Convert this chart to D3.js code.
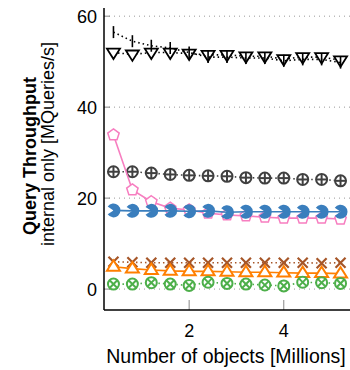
<!DOCTYPE html>
<html>
<head>
<meta charset="utf-8">
<script src="https://cdn.jsdelivr.net/npm/d3@7"></script>
<style>
  body { margin: 0; background: #fff; }
  text { font-family: "Liberation Sans", Arial, sans-serif; }
</style>
</head>
<body>
<div id="chart"></div>
<script>
// x positions (millions of objects)
const objects = [0.4, 0.8, 1.2, 1.6, 2.0, 2.4, 2.8, 3.2, 3.6, 4.0, 4.4, 4.8, 5.2];

// throughput per series [MQueries/s]
const tickSeries     = [56.5, 54.5, 53.5, 53.0, 52.0, 51.0, 51.0, 50.8, 50.8, 50.2, 50.5, 50.5, 49.8];
const triDownSeries  = [52.0, 51.6, 52.0, 52.0, 51.8, 51.5, 51.5, 51.2, 51.2, 50.6, 51.0, 51.0, 50.3];
const oplusSeries    = [25.8, 25.8, 25.5, 25.2, 25.0, 24.9, 24.8, 24.5, 24.4, 24.4, 24.1, 24.1, 23.8];
const pentagonSeries = [33.9, 21.8, 19.2, 17.8, 17.4, 16.7, 16.3, 16.1, 15.8, 15.6, 15.6, 15.6, 15.4];
const pacmanSeries   = [17.3, 17.2, 17.2, 17.2, 17.1, 17.2, 16.9, 17.0, 17.0, 17.0, 17.0, 17.0, 17.0];
const crossSeries    = [6.0, 5.9, 5.8, 5.8, 5.8, 5.8, 5.8, 5.8, 5.8, 5.8, 5.8, 5.7, 5.8];
const triUpSeries    = [4.9, 4.5, 4.2, 4.0, 3.9, 3.9, 3.8, 3.7, 3.7, 3.6, 3.5, 3.5, 3.4];
const otimesSeries   = [1.1, 1.1, 1.4, 1.1, 0.8, 1.5, 1.25, 1.1, 0.9, 0.7, 1.5, 1.4, 1.25];

const xTicks = [2, 4];
const yTicks = [0, 20, 40, 60];

const series = [
  { values: oplusSeries,    color: '#404040', dash: '1.5,3', marker: 'oplus' },
  { values: pentagonSeries, color: '#f77ec0', dash: null,    marker: 'pentagon' },
  { values: pacmanSeries,   color: '#3a7ebd', dash: null,    marker: 'pacman' },
  { values: crossSeries,    color: '#a65628', dash: '1.5,3', marker: 'cross' },
  { values: triUpSeries,    color: '#ff7f00', dash: null,    marker: 'triUp' },
  { values: otimesSeries,   color: '#4daf4a', dash: '1.5,3', marker: 'otimes' },
  { values: triDownSeries,  color: '#000000', dash: '1.5,3', marker: 'triDown' },
  { values: tickSeries,     color: '#000000', dash: '1.5,3', marker: 'vline' }
];

const width = 350, height = 370;
const margin = { top: 8, right: 0, bottom: 60, left: 104 };

const svg = d3.select('#chart').append('svg')
  .attr('width', width)
  .attr('height', height);

const x = d3.scaleLinear().domain([0.2, 5.4]).range([margin.left, width - margin.right]);
const y = d3.scaleLinear().domain([-4.6, 61.8]).range([height - margin.bottom, margin.top]);

const plot = svg.append('g');

// grid lines (dotted)
plot.selectAll('line.grid')
  .data(yTicks)
  .join('line')
  .attr('class', 'grid')
  .attr('x1', margin.left).attr('x2', width)
  .attr('y1', d => y(d)).attr('y2', d => y(d))
  .attr('stroke', '#999')
  .attr('stroke-width', 1)
  .attr('stroke-dasharray', '1,4');

// inward ticks
plot.selectAll('line.ytick')
  .data(yTicks)
  .join('line')
  .attr('x1', margin.left).attr('x2', margin.left + 6)
  .attr('y1', d => y(d)).attr('y2', d => y(d))
  .attr('stroke', '#888');

plot.selectAll('line.xtick')
  .data(xTicks)
  .join('line')
  .attr('x1', d => x(d)).attr('x2', d => x(d))
  .attr('y1', y.range()[0]).attr('y2', y.range()[0] - 10)
  .attr('stroke', '#888');

// tick labels
svg.selectAll('text.ylab')
  .data(yTicks)
  .join('text')
  .attr('x', 97)
  .attr('y', d => y(d))
  .attr('dy', '0.36em')
  .attr('text-anchor', 'end')
  .style('font-size', '18px')
  .text(d => d);

svg.selectAll('text.xlab')
  .data(xTicks)
  .join('text')
  .attr('x', d => x(d))
  .attr('y', 337)
  .attr('text-anchor', 'middle')
  .style('font-size', '18px')
  .text(d => d);

// markers
const pentagonPath = r => {
  const pts = d3.range(5).map(i => {
    const a = -Math.PI / 2 + i * 2 * Math.PI / 5;
    return [r * Math.cos(a), r * Math.sin(a)];
  });
  return 'M' + pts.join('L') + 'Z';
};
const triPath = (r, down) => {
  const s = down ? 1 : -1;
  return `M${-r},${-s * r * 0.6}L${r},${-s * r * 0.6}L0,${s * r}Z`;
};

function drawMarker(g, kind, color) {
  if (kind === 'oplus' || kind === 'otimes') {
    g.append('circle').attr('r', 5.5).attr('fill', '#fff').attr('stroke', color).attr('stroke-width', 2);
    const r = 5.5;
    const segs = kind === 'oplus'
      ? [[-r, 0, r, 0], [0, -r, 0, r]]
      : [[-r * 0.7, -r * 0.7, r * 0.7, r * 0.7], [-r * 0.7, r * 0.7, r * 0.7, -r * 0.7]];
    segs.forEach(s => g.append('line')
      .attr('x1', s[0]).attr('y1', s[1]).attr('x2', s[2]).attr('y2', s[3])
      .attr('stroke', color).attr('stroke-width', 2));
  } else if (kind === 'pentagon') {
    g.append('path').attr('d', pentagonPath(6)).attr('fill', '#fff').attr('stroke', color).attr('stroke-width', 1.5);
  } else if (kind === 'pacman') {
    const arc = d3.arc().innerRadius(0).outerRadius(7)
      .startAngle(-Math.PI / 2 + 0.6).endAngle(Math.PI * 1.5 - 0.6);
    g.append('path').attr('d', arc()).attr('fill', color);
  } else if (kind === 'cross') {
    g.append('path').attr('d', 'M-5,-5L5,5M-5,5L5,-5').attr('stroke', color).attr('stroke-width', 2.2);
  } else if (kind === 'triUp') {
    g.append('path').attr('d', triPath(6.5, false)).attr('fill', '#fff').attr('stroke', color).attr('stroke-width', 2);
  } else if (kind === 'triDown') {
    g.append('path').attr('d', triPath(6.5, true)).attr('fill', '#fff').attr('stroke', color).attr('stroke-width', 1.8);
  } else if (kind === 'vline') {
    g.append('line').attr('x1', 0).attr('x2', 0).attr('y1', -6).attr('y2', 6)
      .attr('stroke', color).attr('stroke-width', 1.6);
  }
}

const line = d3.line().x(d => x(d[0])).y(d => y(d[1]));

series.forEach(s => {
  const pts = objects.map((o, i) => [o, s.values[i]]);
  plot.append('path')
    .attr('d', line(pts))
    .attr('fill', 'none')
    .attr('stroke', s.color)
    .attr('stroke-width', 1.6)
    .attr('stroke-dasharray', s.dash);
  pts.forEach(p => {
    const g = plot.append('g').attr('transform', `translate(${x(p[0])},${y(p[1])})`);
    drawMarker(g, s.marker, s.color);
  });
});

// axis lines
plot.append('line')
  .attr('x1', margin.left).attr('x2', margin.left)
  .attr('y1', margin.top).attr('y2', y.range()[0])
  .attr('stroke', '#000').attr('stroke-width', 1.5);
plot.append('line')
  .attr('x1', margin.left).attr('x2', width)
  .attr('y1', y.range()[0]).attr('y2', y.range()[0])
  .attr('stroke', '#000').attr('stroke-width', 1.5);

// axis titles
svg.append('text')
  .attr('x', 226).attr('y', 363)
  .attr('text-anchor', 'middle')
  .style('font-size', '19.5px')
  .text('Number of objects [Millions]');

svg.append('text')
  .attr('transform', 'translate(36,156) rotate(-90)')
  .attr('text-anchor', 'middle')
  .style('font-size', '18px')
  .style('font-weight', 'bold')
  .text('Query Throughput');

svg.append('text')
  .attr('transform', 'translate(54,144) rotate(-90)')
  .attr('text-anchor', 'middle')
  .style('font-size', '18px')
  .text('internal only [MQueries/s]');
</script>
</body>
</html>
